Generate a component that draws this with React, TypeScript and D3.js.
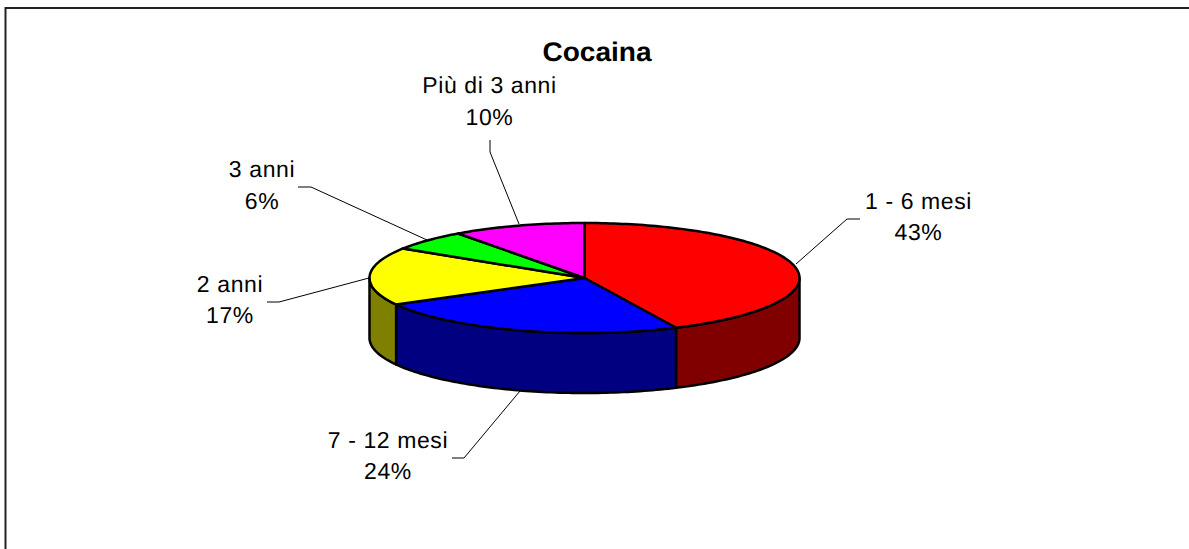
import React from "react";
import * as d3 from "d3";

const title = "Cocaina";
const categories = ["1 - 6 mesi", "7 - 12 mesi", "2 anni", "3 anni", "Più di 3 anni"];
const values = [43, 24, 17, 6, 10];
const topColors = ["#ff0000", "#0000ff", "#ffff00", "#00ff00", "#ff00ff"];
const sideColors = ["#800000", "#000080", "#808000", "#008000", "#800080"];

// label centre x, first baseline y
const labelX = [918.5, 388, 230, 262, 489.5];
const labelY = [209, 448, 292, 177, 93];
const secondLineGap = [31, 31, 31, 32, 32];
// leader polylines: from label elbow to the pie
const leaders: [number, number][][] = [
  [[860, 219], [847, 219], [796, 264]],
  [[452, 458], [464, 458], [520, 391]],
  [[267, 302], [279, 302], [369, 278]],
  [[298, 187], [311, 187], [427, 240]],
  [[490, 140], [490, 152], [519, 224]],
];

const W = 1189, H = 549;
const cx = 584.5, cy = 278, rx = 215, ry = 55, depth = 60;
const FONT = "'Liberation Sans', Arial, Helvetica, sans-serif";

const xScale = d3.scaleLinear().domain([-1, 1]).range([cx - rx, cx + rx]);
const yScale = d3.scaleLinear().domain([-1, 1]).range([cy - ry, cy + ry]);
const px = (a: number) => xScale(Math.sin(a));
const py = (a: number) => yScale(-Math.cos(a));
const line = d3.line<[number, number]>();

function arcPts(a0: number, a1: number, dy = 0): [number, number][] {
  const n = Math.max(2, Math.ceil((a1 - a0) / 0.02));
  return d3.range(n + 1).map((i) => {
    const a = a0 + ((a1 - a0) * i) / n;
    return [px(a), py(a) + dy] as [number, number];
  });
}

const slices = d3.pie<number>().sort(null).startAngle(0).endAngle(2 * Math.PI)(values);

export default function App() {
  const frontA = Math.PI / 2, frontB = (3 * Math.PI) / 2;
  return (
    <svg
      width={W}
      height={H}
      viewBox={`0 0 ${W} ${H}`}
      style={{ position: "absolute", left: 0, top: 0, background: "#fff", textRendering: "geometricPrecision" }}
    >
      <path d={`M5.5,${H}V8H${W}`} fill="none" stroke="#222" strokeWidth={2} />

      {slices.map((s, i) => {
        const a0 = Math.max(s.startAngle, frontA);
        const a1 = Math.min(s.endAngle, frontB);
        if (a1 <= a0) return null;
        const pts = [...arcPts(a0, a1), ...arcPts(a0, a1, depth).reverse()];
        return (
          <path
            key={`side${i}`}
            d={line(pts) + "Z"}
            fill={sideColors[i]}
            stroke="#000"
            strokeWidth={2.5}
            strokeLinejoin="round"
          />
        );
      })}

      {slices.map((s, i) => {
        const pts: [number, number][] = [[cx, cy], ...arcPts(s.startAngle, s.endAngle)];
        return (
          <path
            key={`top${i}`}
            d={line(pts) + "Z"}
            fill={topColors[i]}
            stroke="#000"
            strokeWidth={2.5}
            strokeLinejoin="round"
          />
        );
      })}

      {leaders.map((l, i) => (
        <path key={`lead${i}`} d={line(l) ?? ""} fill="none" stroke="#000" strokeWidth={1} />
      ))}

      <text
        transform="translate(597,61) scale(1.04,1)"
        textAnchor="middle"
        fontFamily={FONT}
        fontWeight="bold"
        fontSize={27}
        fill="#000"
      >
        {title}
      </text>

      {categories.map((c, i) => (
        <g key={c} fontFamily={FONT} fontSize={23} fill="#000" textAnchor="middle" letterSpacing={0.6}>
          <text x={labelX[i]} y={labelY[i]}>{c}</text>
          <text x={labelX[i]} y={labelY[i] + secondLineGap[i]}>
            {values[i]}%
          </text>
        </g>
      ))}
    </svg>
  );
}
